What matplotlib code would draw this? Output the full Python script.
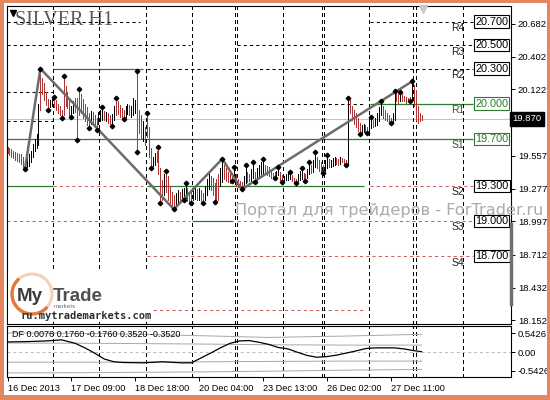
import matplotlib
matplotlib.use("Agg")
import matplotlib.pyplot as plt
import matplotlib.patches as mpatches
import matplotlib.transforms as mtransforms
import numpy as np

plt.rcParams['font.family'] = ['Liberation Sans', 'DejaVu Sans']

# SILVER H1, 16 Dec - 27 Dec 2013, one entry per hourly bar
highs = [19.63, 19.62, 19.61, 19.60, 19.59, 19.58, 19.57, 19.57, 19.55, 19.52,
         19.55, 19.57, 19.60, 19.66, 19.70, 19.74, 20.00, 20.30, 20.22, 20.18,
         20.10, 20.04, 20.03, 20.05, 20.06, 20.03, 20.00, 19.98, 19.95, 20.24,
         20.15, 20.10, 20.05, 19.98, 20.02, 20.05, 20.05, 20.13, 20.08, 20.04,
         20.00, 19.97, 19.92, 19.94, 19.93, 19.90, 19.88, 19.93, 19.95, 19.97,
         19.94, 19.93, 19.92, 19.90, 19.91, 19.98, 20.05, 20.02, 19.99, 19.96,
         19.95, 19.98, 20.00, 19.99, 19.98, 20.05, 20.03, 20.28, 19.95, 19.90,
         19.85, 19.80, 19.92, 19.80, 19.62, 19.55, 19.58, 19.60, 19.63, 19.45,
         19.35, 19.40, 19.43, 19.38, 19.30, 19.25, 19.22, 19.24, 19.26, 19.25,
         19.27, 19.28, 19.32, 19.28, 19.25, 19.26, 19.28, 19.29, 19.27, 19.28,
         19.26, 19.24, 19.30, 19.36, 19.40, 19.38, 19.37, 19.32, 19.36, 19.40,
         19.45, 19.53, 19.48, 19.45, 19.42, 19.40, 19.40, 19.46, 19.40, 19.36,
         19.34, 19.33, 19.38, 19.48, 19.42, 19.40, 19.44, 19.50, 19.42, 19.45,
         19.48, 19.50, 19.53, 19.48, 19.47, 19.46, 19.44, 19.41, 19.42, 19.43,
         19.46, 19.42, 19.39, 19.38, 19.40, 19.41, 19.42, 19.39, 19.37, 19.36,
         19.40, 19.43, 19.45, 19.41, 19.40, 19.44, 19.50, 19.48, 19.52, 19.59,
         19.55, 19.52, 19.50, 19.48, 19.52, 19.56, 19.53, 19.52, 19.54, 19.55,
         19.54, 19.53, 19.55, 19.54, 19.53, 19.52, 20.05, 20.03, 19.98, 19.95,
         19.92, 19.88, 19.84, 19.82, 19.83, 19.82, 19.80, 19.85, 19.89, 19.86,
         19.88, 19.92, 19.97, 20.02, 19.98, 19.95, 19.92, 19.90, 19.88, 19.92,
         20.11, 20.10, 20.08, 20.10, 20.08, 20.07, 20.06, 20.05, 20.06, 20.19,
         20.16, 20.12, 19.98, 19.92, 19.90]
lows = [19.58, 19.56, 19.55, 19.54, 19.52, 19.51, 19.50, 19.49, 19.46, 19.44,
        19.46, 19.47, 19.50, 19.55, 19.60, 19.62, 19.65, 19.95, 20.08, 20.03,
        19.99, 19.95, 19.97, 19.98, 19.97, 19.95, 19.92, 19.90, 19.88, 19.90,
        19.98, 19.96, 19.90, 19.89, 19.92, 19.93, 19.69, 19.90, 19.92, 19.88,
        19.85, 19.82, 19.79, 19.83, 19.84, 19.82, 19.78, 19.83, 19.85, 19.86,
        19.86, 19.85, 19.84, 19.83, 19.81, 19.86, 19.90, 19.91, 19.89, 19.88,
        19.87, 19.89, 19.91, 19.90, 19.89, 19.90, 19.92, 19.59, 19.75, 19.70,
        19.68, 19.65, 19.72, 19.55, 19.45, 19.47, 19.48, 19.50, 19.40, 19.15,
        19.18, 19.22, 19.25, 19.18, 19.14, 19.12, 19.10, 19.13, 19.15, 19.15,
        19.17, 19.18, 19.20, 19.17, 19.16, 19.15, 19.18, 19.19, 19.18, 19.18,
        19.17, 19.15, 19.18, 19.22, 19.27, 19.26, 19.22, 19.16, 19.18, 19.18,
        19.30, 19.33, 19.36, 19.34, 19.33, 19.32, 19.34, 19.34, 19.30, 19.29,
        19.28, 19.27, 19.29, 19.32, 19.33, 19.34, 19.34, 19.37, 19.33, 19.35,
        19.37, 19.40, 19.40, 19.40, 19.39, 19.38, 19.37, 19.36, 19.37, 19.38,
        19.39, 19.35, 19.33, 19.34, 19.35, 19.35, 19.36, 19.34, 19.33, 19.32,
        19.34, 19.35, 19.36, 19.35, 19.34, 19.37, 19.40, 19.41, 19.42, 19.46,
        19.45, 19.43, 19.42, 19.41, 19.43, 19.45, 19.46, 19.46, 19.47, 19.48,
        19.49, 19.48, 19.49, 19.50, 19.49, 19.48, 19.48, 19.92, 19.86, 19.83,
        19.80, 19.77, 19.74, 19.75, 19.76, 19.76, 19.75, 19.77, 19.79, 19.80,
        19.81, 19.82, 19.85, 19.90, 19.88, 19.86, 19.85, 19.84, 19.84, 19.84,
        19.86, 20.02, 20.01, 20.02, 20.02, 20.02, 20.01, 20.02, 20.02, 20.03,
        19.98, 19.86, 19.84, 19.85, 19.86]
# k = up bar (black), r = down bar (red)
bar_dirs = ("rrrrrrrrrr" "kkkkkkkrrr" "rrkkrrrrrr" "rrrkkrrrrr" "rrrkrrrkkk"
            "rkrrkkrrrr" "rkkrkkkrrr" "krrrrkkrrr" "rkrrrrrkkr" "kkkrrrkkrk"
            "rrkkkrrrrr" "kkrrrrrkrr" "rrkkrrkkrk" "kkkrrrrrrk" "krrkkkkrrr"
            "kkkrrkkrkk" "rrrrkkrkkk" "rrkrrrkrrr" "rrrkkrrkkr" "kkkkrrrrrk"
            "krrkrrrrrk" "rrrrr")

fractal_up = [17, 24, 29, 37, 49, 56, 67, 72, 78, 82, 92, 111, 117, 123, 127,
              132, 140, 146, 152, 156, 159, 165, 176, 188, 193, 200, 203, 209]
fractal_down = [9, 21, 28, 33, 36, 42, 46, 54, 60, 67, 74, 79, 86, 91, 95, 101,
                107, 116, 121, 128, 138, 142, 149, 154, 163, 175, 182, 186, 198, 208]

zz_bars = [9, 17, 86, 111, 121, 209]
zz_prices = [19.44, 20.30, 19.10, 19.53, 19.27, 20.19]

last_price = 19.87

# support / resistance levels
level_names = ['R4', 'R3', 'R2', 'R1', 'S1', 'S2', 'S3', 'S4']
level_vals = [20.7, 20.5, 20.3, 20.0, 19.7, 19.3, 19.0, 18.7]
# level segments drawn per session: (price, first bar, last bar, kind)
segments = [(20.7, -0.3, 68.5, 'res'), (20.7, 187.3, 240.6, 'res'),
            (20.5, -0.3, 94.3, 'res'), (20.5, 118.6, 240.6, 'res'),
            (20.3, 23.5, 70.0, 'mid'), (20.3, 72.1, 240.6, 'res'),
            (20.1, -0.3, 23.5, 'res'),
            (20.0, 72.1, 184.3, 'res'), (20.0, 187.3, 240.6, 'mid'),
            (19.85, -0.3, 23.5, 'res'),
            (19.7, -0.3, 240.6, 'mid'),
            (19.3, -0.3, 23.5, 'mid'), (19.3, 23.5, 70.0, 'sup'),
            (19.3, 72.1, 184.3, 'mid'), (19.3, 187.3, 240.6, 'sup'),
            (19.0, -0.3, 94.3, 'sup'), (19.0, 95.3, 116.5, 'mid'),
            (19.0, 118.6, 240.6, 'sup'),
            (18.7, 72.1, 240.6, 'sup'),
            (18.24, 72.1, 184.3, 'sup')]

# day separators (in bars)
separators = [23.5, 47.3, 71.6, 95.3, 117.6, 118.6, 142.4, 162.5, 163.6,
              186.8, 209.6, 211.1, 235.4]

# 19.842 sits under the last-price box, so it is left out
price_ticks = [20.682, 20.402, 20.122, 19.557, 19.277, 18.997,
               18.712, 18.432, 18.152]

date_bars = [0, 33, 66, 99, 132, 165, 198]
date_labels = ['16 Dec 2013', '17 Dec 09:00', '18 Dec 18:00', '20 Dec 04:00',
               '23 Dec 13:00', '26 Dec 02:00', '27 Dec 11:00']

# DF indicator
df_bars = [0, 10, 20, 28, 35, 40, 45, 50, 55, 60, 70, 80, 90, 95, 100, 105,
           110, 115, 120, 125, 130, 135, 140, 145, 150, 155, 160, 165, 170,
           175, 180, 185, 190, 200, 205, 210, 214]
df_vals = [0.29, 0.30, 0.32, 0.35, 0.25, 0.12, -0.03, -0.20, -0.28, -0.30,
           -0.31, -0.28, -0.31, -0.31, -0.17, -0.03, 0.12, 0.25, 0.32, 0.33,
           0.28, 0.22, 0.13, 0.09, -0.01, -0.10, -0.15, -0.13, -0.09, -0.03,
           0.03, 0.10, 0.12, 0.12, 0.09, 0.04, 0.01]
band_bars = [0, 50, 100, 135, 175, 214]
band_up2 = [0.55, 0.53, 0.47, 0.42, 0.46, 0.51]
band_up1 = [0.26, 0.25, 0.23, 0.21, 0.20, 0.20]
band_dn1 = [-0.29, -0.29, -0.28, -0.27, -0.26, -0.26]
band_dn2 = [-0.60, -0.59, -0.57, -0.55, -0.52, -0.50]

W, H = 550, 400
fig = plt.figure(figsize=(5.5, 4), dpi=100)
fig.patch.set_facecolor('white')


def px_rect(x0, y0, x1, y1):
    return [x0 / W, 1 - y1 / H, (x1 - x0) / W, (y1 - y0) / H]


ax = fig.add_axes(px_rect(7, 6, 511, 324))
ax_df = fig.add_axes(px_rect(7, 325.5, 511, 377))
xlim = (-0.26, 260.2)

red = '#b03434'
green = '#2e7a2e'
dash = (0, (3, 3))

# ---- main pane
idx = np.arange(len(highs))
bar_cols = ['black' if d == 'k' else red for d in bar_dirs]
ax.axhline(last_price, color='#c4c4c4', lw=0.8, zorder=1)

styles = {'res': dict(color='black', ls=dash, lw=0.75),
          'mid': dict(color=green, ls='-', lw=0.9),
          'sup': dict(color='#cc6060', ls=dash, lw=0.75)}
for lvl, x0, x1, kind in segments:
    ax.hlines(lvl, x0, x1, zorder=2, **styles[kind])

for s in separators:
    for a in (ax, ax_df):
        a.axvline(s, color='black', lw=0.75, ls=dash, zorder=2, antialiased=False)

ax.vlines(idx, lows, highs, colors=bar_cols, lw=0.5, zorder=3, antialiased=False)
ax.plot(zz_bars, zz_prices, color='#6c6c6c', lw=1.8, zorder=4)
ax.plot(fractal_up, [highs[i] for i in fractal_up], 'D', color='black', ms=2.3, zorder=5)
ax.plot(fractal_down, [lows[i] for i in fractal_down], 'D', color='black', ms=2.3, zorder=5)

for name, lvl in zip(level_names, level_vals):
    col = green if name in ('R1', 'S1') else 'black'
    ax.text(232.6, lvl - 0.012, name, ha='center', va='top', fontsize=7.5,
            color='#2e5a2e' if col == green else '#202020', zorder=6)
    ax.text(241.6, lvl, f'{lvl:.3f}', ha='left', va='center', fontsize=7.8,
            color=col, zorder=6,
            bbox=dict(boxstyle='square,pad=0.12', fc='white', ec=col, lw=0.8))

ax.text(0.016, 0.985, 'SILVER H1', transform=ax.transAxes, family='Liberation Serif',
        fontsize=14.5, color='#5a5a5a', va='top', ha='left', zorder=1)

ax.set_xlim(*xlim)
ax.set_ylim(18.121, 20.834)
ax.set_xticks([])
ax.yaxis.tick_right()
ax.set_yticks(price_ticks)
ax.set_yticklabels([f'{v:.3f}' for v in price_ticks])
ax.tick_params(axis='y', length=3, width=0.7, labelsize=6.8, pad=2)

blend = mtransforms.blended_transform_factory(ax.transAxes, ax.transData)
ax.text(1.003, last_price, f'{last_price:.3f}', transform=blend, ha='left', va='center',
        color='white', fontsize=6.8, zorder=10, clip_on=False,
        bbox=dict(boxstyle='square,pad=0.3', fc='black', ec='black'))
ax.plot([1, 1], [18.29, 18.97], transform=blend, color='#707070', lw=2.5,
        clip_on=False, zorder=10)

# ---- DF pane
for band in (band_up2, band_up1, band_dn1, band_dn2):
    ax_df.plot(band_bars, band, color='#a8a8a8', lw=0.7)
ax_df.axhline(0, color='#b8b8b8', lw=0.7, ls=dash)
ax_df.plot(df_bars, df_vals, color='black', lw=0.9)
ax_df.text(0.01, 0.92, 'DF 0.0076 0.1760 -0.1760 0.3520 -0.3520',
           transform=ax_df.transAxes, fontsize=6.5, va='top', ha='left')
ax_df.set_xlim(*xlim)
ax_df.set_ylim(-0.717, 0.763)
ax_df.yaxis.tick_right()
ax_df.set_yticks([0.5426, 0.0, -0.5426])
ax_df.set_yticklabels(['0.5426', '0.00', '-0.5426'])
ax_df.tick_params(axis='y', length=3, width=0.7, labelsize=6.8, pad=2)
ax_df.set_xticks(date_bars)
ax_df.set_xticklabels(date_labels, ha='left')
ax_df.tick_params(axis='x', length=3, width=0.7, labelsize=6.6, pad=2)

for a in (ax, ax_df):
    for sp in a.spines.values():
        sp.set_linewidth(0.8)

# ---- overlay: frame, watermark, logo
ov = fig.add_axes([0, 0, 1, 1], zorder=20)
ov.set_xlim(0, W)
ov.set_ylim(H, 0)
ov.axis('off')
ov.patch.set_alpha(0)

frame_col = '#e4865f'
for r in [(0, 0, 4, H), (547, 0, 3, H), (0, 0, W, 3), (0, 395, W, 5)]:
    ov.add_patch(mpatches.Rectangle((r[0], r[1]), r[2], r[3], color=frame_col, lw=0))

ov.text(235, 210, 'Портал для трейдеров - ForTrader.ru', family='DejaVu Sans',
        fontsize=11.6, color='#ababab', va='center', ha='left')

ov.add_patch(mpatches.Rectangle((8, 272), 144, 50, color='white', lw=0))
ov.add_patch(mpatches.Arc((32, 294), 40, 40, color='#f2d2bd', lw=2.2))
ov.add_patch(mpatches.Arc((32, 294), 40, 40, theta1=40, theta2=230, color='#e27a3e', lw=2.4))
ov.text(17, 301, 'My', fontsize=13.5, weight='bold', color='#3c3c3c', va='baseline')
ov.text(53, 301, 'Trade', fontsize=13.5, weight='bold', color='#505050', va='baseline')
ov.text(54, 308, 'markets', fontsize=4.5, color='#707070', va='baseline')
ov.text(20, 316, 'ru.mytrademarkets.com', family='DejaVu Sans Mono', weight='bold',
        fontsize=7.5, color='#303030', va='center')

ov.plot([13], [13], marker='v', ms=4, color='black')
ov.plot([423], [8.5], marker='v', ms=6, color='#c8c8c8')

fig.savefig('out.png', dpi=100)
